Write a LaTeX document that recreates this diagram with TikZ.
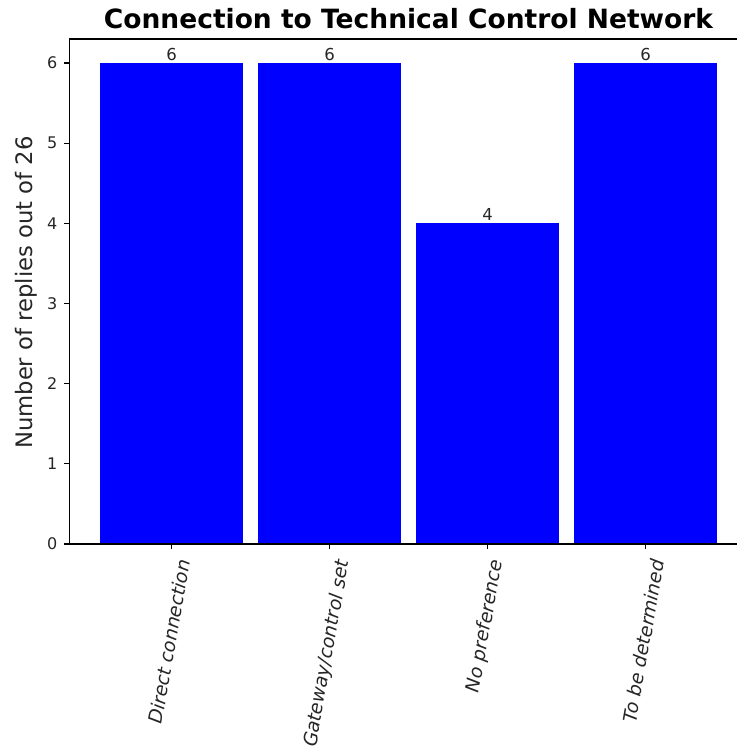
\documentclass[tikz,border=0pt]{standalone}
\usepackage{fontspec}
\setmainfont{DejaVu Sans}[ItalicFont={DejaVu Sans Oblique},BoldFont={DejaVu Sans Bold}]
\usepackage{graphicx}
\begin{document}
\begin{tikzpicture}[x=1bp,y=-1bp,
  axisline/.style={line width=1.24bp,black},
  barfill/.style={fill=blue},
  ticklab/.style={font=\fontsize{16bp}{18bp}\selectfont,inner sep=0pt,text=black!85},
  vallab/.style={font=\fontsize{16.5bp}{18bp}\selectfont,inner sep=0pt,text=black!85},
  xlab/.style={font=\fontsize{18.8bp}{21bp}\selectfont\itshape,inner sep=0pt,text=black!85},
  ylab/.style={font=\fontsize{22.7bp}{25bp}\selectfont,inner sep=0pt,text=black!85},
  charttitle/.style={font=\fontsize{26.5bp}{30bp}\selectfont\bfseries,inner sep=0pt}]
\path[use as bounding box] (0,0) rectangle (737,749);
% bars
\foreach \c/\v/\n in {171.5/6/1,329.5/6/2,487.5/4/3,645.5/6/4}{
  \fill[barfill] ({\c-71.1},544) rectangle ({\c+71.1},{544-\v*80.17});
  \node[vallab,anchor=base] (val\n) at (\c,{544-\v*80.17-2.6}) {\v};
  \coordinate (xt\n) at (\c,544);
  \coordinate (xb\n) at (\c,549.4);
  \draw[axisline] (xt\n) -- (xb\n);
}
% axes
\coordinate (tl) at (69.6,39);
\coordinate (bl) at (69.6,544);
\coordinate (br) at (760,544);
\coordinate (tr) at (760,39);
\draw[axisline] (tr) -- (tl) -- (bl) -- (br);
% y ticks
\foreach \k in {0,...,6}{
  \coordinate (ya\k) at (69.6,{544-\k*80.17});
  \coordinate (yb\k) at (64.2,{544-\k*80.17});
  \draw[axisline] (ya\k) -- (yb\k);
  \node[ticklab,anchor=east] (yl\k) at (57.4,{544-\k*80.17}) {\k};
}
% x labels
\node[xlab,anchor=north] (xl1) at (169.5,558.5) {\rotatebox{80}{Direct connection}};
\node[xlab,anchor=north] (xl2) at (327.5,558.5) {\rotatebox{80}{Gateway/control set}};
\node[xlab,anchor=north] (xl3) at (485.5,558.5) {\rotatebox{80}{No preference}};
\node[xlab,anchor=north] (xl4) at (643.5,558.5) {\rotatebox{80}{To be determined}};
% y label
\node[ylab,rotate=90,anchor=base] (ylabel) at (32.5,292.5) {Number of replies out of 26};
% title
\node[charttitle,anchor=base] (title) at (408.5,28.3) {Connection to Technical Control Network};
\end{tikzpicture}
\end{document}
